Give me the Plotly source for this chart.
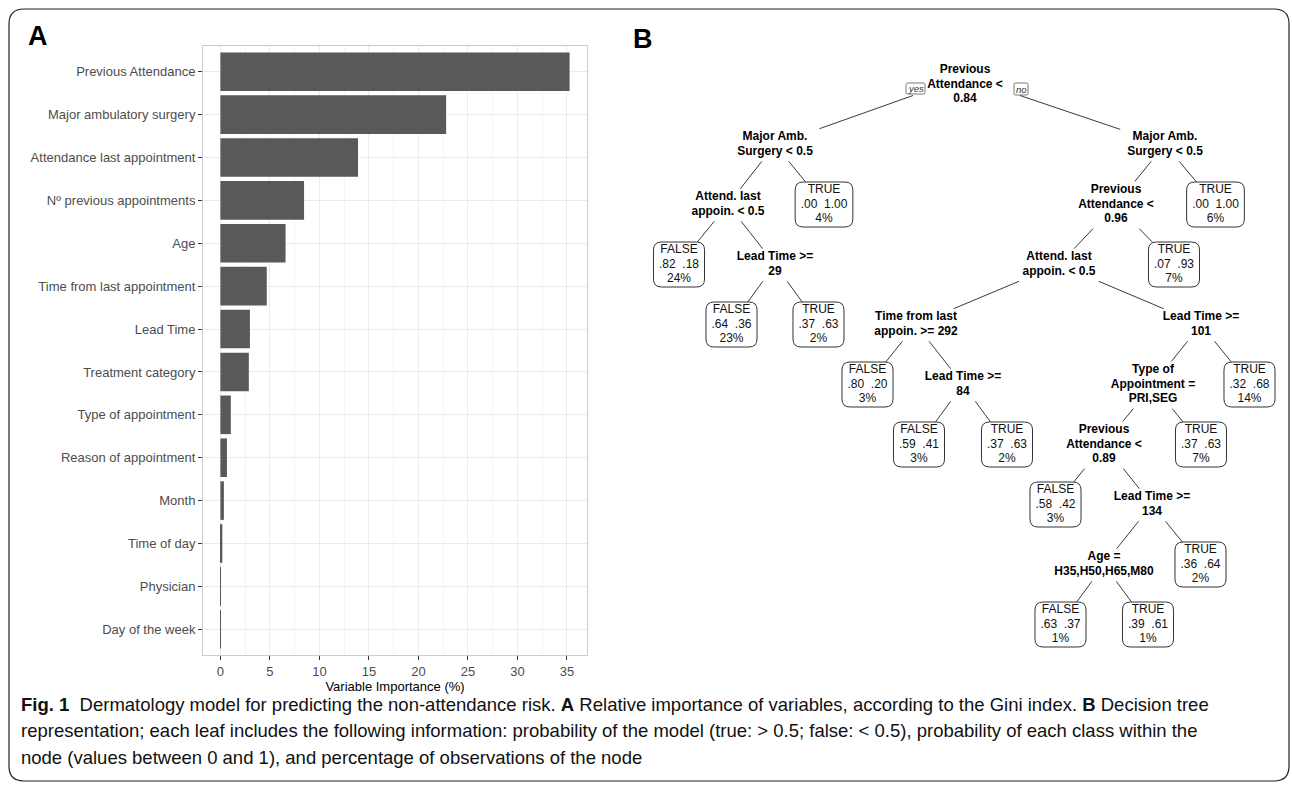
import plotly.graph_objects as go

W, H = 1292, 785

# ---------------- Panel A data ----------------
categories = ["Previous Attendance", "Major ambulatory surgery", "Attendance last appointment",
              "Nº previous appointments", "Age", "Time from last appointment", "Lead Time",
              "Treatment category", "Type of appointment", "Reason of appointment", "Month",
              "Time of day", "Physician", "Day of the week"]
importance = [35.27, 22.8, 13.9, 8.45, 6.58, 4.68, 2.98, 2.87, 1.05, 0.66, 0.35, 0.19, 0.03, 0.02]
x_ticks = [0, 5, 10, 15, 20, 25, 30, 35]
x_title = "Variable Importance (%)"

# ---------------- Panel B data (decision tree, preorder) ----------------
tree_parent = [-1, 0, 1, 2, 2, 4, 4, 1, 0, 8, 9, 10, 11, 11, 13, 13, 10, 16, 17, 18, 18, 20, 21, 21, 20, 17, 16, 9, 8]
tree_split = ["Previous|Attendance <|0.84", "Major Amb.|Surgery < 0.5", "Attend. last|appoin. < 0.5", None,
              "Lead Time >=|29", None, None, None, "Major Amb.|Surgery < 0.5", "Previous|Attendance <|0.96",
              "Attend. last|appoin. < 0.5", "Time from last|appoin. >= 292", None, "Lead Time >=|84", None, None,
              "Lead Time >=|101", "Type of|Appointment =|PRI,SEG", "Previous|Attendance <|0.89", None,
              "Lead Time >=|134", "Age =|H35,H50,H65,M80", None, None, None, None, None, None, None]
leaf_class = [None, None, None, "FALSE", None, "FALSE", "TRUE", "TRUE", None, None, None, None, "FALSE", None,
              "FALSE", "TRUE", None, None, None, "FALSE", None, None, "FALSE", "TRUE", "TRUE", "TRUE", "TRUE",
              "TRUE", "TRUE"]
leaf_p_false = [None, None, None, .82, None, .64, .37, .00, None, None, None, None, .80, None, .59, .37,
                None, None, None, .58, None, None, .63, .39, .36, .37, .32, .07, .00]
leaf_p_true = [None, None, None, .18, None, .36, .63, 1.00, None, None, None, None, .20, None, .41, .63,
               None, None, None, .42, None, None, .37, .61, .64, .63, .68, .93, 1.00]
leaf_pct = [None, None, None, 24, None, 23, 2, 4, None, None, None, None, 3, None, 3, 2,
            None, None, None, 3, None, None, 1, 1, 2, 7, 14, 7, 6]

caption_lines = [
    "<b>Fig. 1</b>  Dermatology model for predicting the non-attendance risk. <b>A</b> Relative importance of variables, according to the Gini index. <b>B</b> Decision tree",
    "representation; each leaf includes the following information: probability of the model (true: > 0.5; false: < 0.5), probability of each class within the",
    "node (values between 0 and 1), and percentage of observations of the node",
]

# ---------------- layout constants (pixel canvas) ----------------
node_x = [965, 775, 728, 679, 775, 731.5, 818.5, 824, 1165, 1116, 1059, 916, 867.5, 963, 919, 1007,
          1201, 1153, 1104, 1055.5, 1152, 1104, 1060.5, 1148, 1200.5, 1201, 1249.5, 1174, 1215.5]
LEVEL_Y0, LEVEL_DY = 84.5, 60.0
LINE_DY = 14.6
FONT = "Liberation Sans, Arial, sans-serif"

# depth from parents
depth = []
for i, p in enumerate(tree_parent):
    depth.append(0 if p < 0 else depth[p] + 1)
node_y = [LEVEL_Y0 + LEVEL_DY * d for d in depth]

# Arial-ish widths (em) for text width estimate
CW = {'.': .278, ' ': .278, '%': .889, 'F': .611, 'A': .667, 'L': .556, 'S': .667, 'E': .667,
      'T': .611, 'R': .722, 'U': .722}
def txt_w(s, size=12, bold=False):
    w = 0
    for ch in s:
        if ch in CW:
            w += CW[ch]
        elif ch.isdigit():
            w += .556
        elif ch.isupper():
            w += .70
        else:
            w += .52
    return w * size * (1.06 if bold else 1.0)

def fmt(v):
    s = f"{v:.2f}"
    return s[1:] if s.startswith("0") else s

# node geometry
node_lines, node_hw, node_hh, is_leaf = [], [], [], []
for i in range(len(tree_parent)):
    if tree_split[i] is not None:
        lines = tree_split[i].split("|")
        node_lines.append(lines)
        node_hw.append(max(txt_w(l, 12, True) for l in lines) / 2 + 3)
        node_hh.append((len(lines) - 1) * LINE_DY / 2 + 9.5)
        is_leaf.append(False)
    else:
        lines = [leaf_class[i], f"{fmt(leaf_p_false[i])}  {fmt(leaf_p_true[i])}", f"{leaf_pct[i]}%"]
        node_lines.append(lines)
        node_hw.append(max(txt_w(l, 12) for l in lines) / 2 + 5.5)
        node_hh.append(22.5)
        is_leaf.append(True)

fig = go.Figure()

# ---------------- Panel A: bar chart ----------------
fig.add_trace(go.Bar(x=importance, y=categories, orientation="h", width=0.9,
                     marker=dict(color="#595959", line=dict(width=0)),
                     xaxis="x", yaxis="y", hoverinfo="x+y", showlegend=False))

# ---------------- Panel B: tree ----------------
ex, ey = [], []
root = tree_parent.index(-1)
yes_c = (node_x[root] - 49.5, node_y[root] + 4)
no_c = (node_x[root] + 56, node_y[root] + 4.5)
for i, p in enumerate(tree_parent):
    if p < 0:
        continue
    cx, cy = node_x[i], node_y[i]
    if p == root:
        left = node_x[i] < node_x[root]
        px, py = (yes_c[0] - 2.5, yes_c[1] + 7) if left else (no_c[0] - 1, no_c[1] + 6.5)
        dx, dy = cx - px, cy - py
        t0 = 0.0
    else:
        px, py = node_x[p], node_y[p]
        dx, dy = cx - px, cy - py
        t0 = min(node_hw[p] / abs(dx) if dx else 9, node_hh[p] / abs(dy))
    ch_hw = node_hw[i] + (0 if is_leaf[i] else 2)
    ch_hh = node_hh[i] + (0 if is_leaf[i] else -1)
    t1 = 1 - min(ch_hw / abs(dx) if dx else 9, ch_hh / abs(dy))
    ex += [px + dx * t0, px + dx * t1, None]
    ey += [py + dy * t0, py + dy * t1, None]
fig.add_trace(go.Scatter(x=ex, y=ey, mode="lines", line=dict(color="#3a3a3a", width=1),
                         xaxis="x2", yaxis="y2", hoverinfo="skip", showlegend=False))

# text of nodes
sx, sy, st = [], [], []
lx, ly, lt = [], [], []
for i in range(len(tree_parent)):
    lines = node_lines[i]
    n = len(lines)
    for k, l in enumerate(lines):
        yy = node_y[i] + (k - (n - 1) / 2) * LINE_DY
        if is_leaf[i]:
            lx.append(node_x[i]); ly.append(yy); lt.append(l)
        else:
            sx.append(node_x[i]); sy.append(yy); st.append(f"<b>{l}</b>")
fig.add_trace(go.Scatter(x=sx, y=sy, text=st, mode="text", textposition="middle center",
                         textfont=dict(family=FONT, size=12, color="#000"),
                         xaxis="x2", yaxis="y2", hoverinfo="skip", showlegend=False))
fig.add_trace(go.Scatter(x=lx, y=ly, text=lt, mode="text", textposition="middle center",
                         textfont=dict(family=FONT, size=12, color="#111"),
                         xaxis="x2", yaxis="y2", hoverinfo="skip", showlegend=False))

def rrect(x0, y0, x1, y1, r):
    return (f"M {x0+r},{y0} L {x1-r},{y0} Q {x1},{y0} {x1},{y0+r} L {x1},{y1-r} Q {x1},{y1} {x1-r},{y1} "
            f"L {x0+r},{y1} Q {x0},{y1} {x0},{y1-r} L {x0},{y0+r} Q {x0},{y0} {x0+r},{y0} Z")

shapes = []
for i in range(len(tree_parent)):
    if is_leaf[i]:
        shapes.append(dict(type="path", xref="x2", yref="y2",
                           path=rrect(node_x[i] - node_hw[i], node_y[i] - node_hh[i],
                                      node_x[i] + node_hw[i], node_y[i] + node_hh[i], 8),
                           line=dict(color="#333", width=1), fillcolor="white", layer="below"))
# yes / no boxes
for (c, w_, h_, t) in [(yes_c, 19, 11, "yes"), (no_c, 14, 12, "no")]:
    shapes.append(dict(type="path", xref="x2", yref="y2",
                       path=rrect(c[0] - w_ / 2, c[1] - h_ / 2, c[0] + w_ / 2, c[1] + h_ / 2, 1.5),
                       line=dict(color="#555", width=0.8), fillcolor="white", layer="below"))

# outer rounded frame
shapes.append(dict(type="path", xref="x2", yref="y2", path=rrect(9, 9, 1289, 781, 15),
                   line=dict(color="#222", width=1.2), fillcolor="rgba(0,0,0,0)", layer="above"))

annotations = [
    dict(text="<i>yes</i>", x=yes_c[0], y=yes_c[1], xref="x2", yref="y2", showarrow=False,
         font=dict(family=FONT, size=9.5, color="#333")),
    dict(text="<i>no</i>", x=no_c[0], y=no_c[1], xref="x2", yref="y2", showarrow=False,
         font=dict(family=FONT, size=9.5, color="#333")),
    dict(text="<b>A</b>", x=38, y=36, xref="x2", yref="y2", showarrow=False,
         font=dict(family=FONT, size=27, color="#000")),
    dict(text="<b>B</b>", x=643, y=39, xref="x2", yref="y2", showarrow=False,
         font=dict(family=FONT, size=27, color="#000")),
]
for k, line in enumerate(caption_lines):
    annotations.append(dict(text=line, x=19, y=704 + 26.5 * k, xref="x2", yref="y2", showarrow=False,
                            xanchor="left", yanchor="middle",
                            font=dict(family=FONT, size=18.5, color="#111")))

px0, px1, py0, py1 = 203, 587, 46, 655
fig.update_layout(
    width=W, height=H, autosize=False,
    margin=dict(l=0, r=0, t=0, b=0, pad=0),
    paper_bgcolor="white", plot_bgcolor="rgba(0,0,0,0)",
    bargap=0.1,
    xaxis=dict(domain=[px0 / W, px1 / W], anchor="y", range=[-1.76, 37.03], tickvals=x_ticks,
               ticks="outside", ticklen=4, tickcolor="#333", tickwidth=1,
               tickfont=dict(family=FONT, size=13, color="#4D4D4D"),
               showgrid=True, gridcolor="#EBEBEB", gridwidth=1, zeroline=False,
               minor=dict(tickvals=[2.5, 7.5, 12.5, 17.5, 22.5, 27.5, 32.5], showgrid=True,
                          gridcolor="#F4F4F4", gridwidth=0.6, ticks=""),
               showline=True, mirror=True, linecolor="#CCCCCC", linewidth=1,
               title=dict(text=x_title, font=dict(family=FONT, size=13, color="#000"), standoff=3),
               automargin=False, fixedrange=True),
    yaxis=dict(domain=[1 - py1 / H, 1 - py0 / H], anchor="x", type="category",
               categoryorder="array", categoryarray=categories,
               range=[len(categories) - 1 + 0.6, -0.6],
               ticks="outside", ticklen=4, tickcolor="#333", tickwidth=1,
               tickfont=dict(family=FONT, size=13, color="#4D4D4D"),
               showgrid=True, gridcolor="#EBEBEB", gridwidth=1, zeroline=False,
               showline=True, mirror=True, linecolor="#CCCCCC", linewidth=1,
               automargin=False, fixedrange=True),
    xaxis2=dict(domain=[0, 1], anchor="y2", range=[0, W], visible=False, fixedrange=True),
    yaxis2=dict(domain=[0, 1], anchor="x2", range=[H, 0], visible=False, fixedrange=True),
    shapes=shapes, annotations=annotations,
)

fig.write_html("out.html", config={"displayModeBar": False},
               post_script="document.body.style.margin='0';document.body.style.overflow='hidden';")
